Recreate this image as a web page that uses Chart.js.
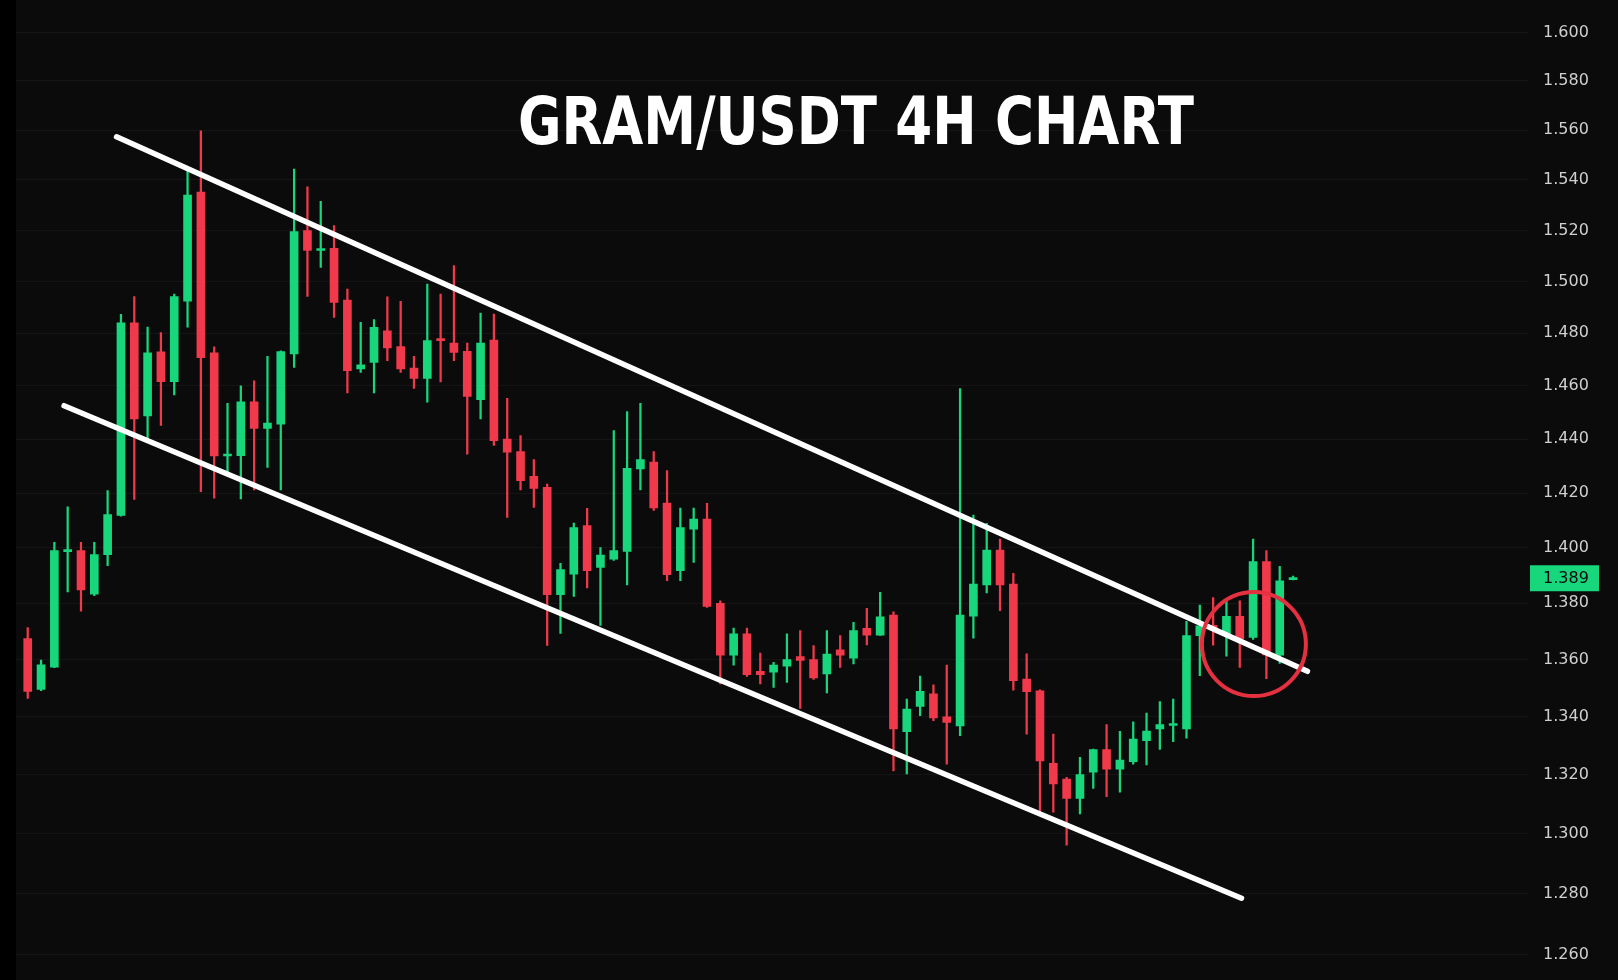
<!DOCTYPE html>
<html>
<head>
<meta charset="utf-8">
<title>GRAM/USDT 4H</title>
<script src="https://cdn.jsdelivr.net/npm/chart.js@4.4.1/dist/chart.umd.min.js"></script>
<style>
  html, body { margin: 0; padding: 0; background: #000; overflow: hidden; }
  #wrap { position: absolute; left: 16px; top: 0; width: 1602px; height: 980px; background: #0b0b0b; }
</style>
</head>
<body>
<div id="wrap"><canvas id="gramChart" width="1602" height="980"></canvas></div>
<script>
// candle values (oldest first)
const opens = [1.3675,1.3496,1.3574,1.3986,1.3990,1.3833,1.3975,1.4118,1.4840,1.4487,1.4729,1.4616,1.4924,1.5352,1.4725,1.4337,
  1.4338,1.4540,1.4440,1.4456,1.4721,1.5199,1.5121,1.5130,1.4928,1.4664,1.4689,1.4810,1.4749,1.4667,1.4628,1.4777,
  1.4763,1.4731,1.4548,1.4774,1.4400,1.4353,1.4262,1.4221,1.3831,1.3905,1.4081,1.3929,1.3959,1.3987,1.4289,1.4314,
  1.4163,1.3917,1.4068,1.4105,1.3800,1.3616,1.3691,1.3559,1.3556,1.3577,1.3611,1.3600,1.3550,1.3635,1.3605,1.3711,
  1.3687,1.3758,1.3349,1.3436,1.3480,1.3400,1.3369,1.3754,1.3866,1.3992,1.3869,1.3532,1.3491,1.3240,1.3186,1.3120,
  1.3209,1.3287,1.3220,1.3245,1.3318,1.3358,1.3370,1.3358,1.3685,1.3722,1.3685,1.3754,1.3679,1.3950,1.3616,1.3885];
const highs = [1.3714,1.3599,1.4020,1.4149,1.4020,1.4020,1.4209,1.4873,1.4942,1.4824,1.4803,1.4951,1.5436,1.5597,1.4748,1.4534,
  1.4600,1.4619,1.4712,1.4733,1.5443,1.5373,1.5315,1.5219,1.4971,1.4842,1.4853,1.4941,1.4923,1.4712,1.4990,1.4951,
  1.5062,1.4763,1.4878,1.4874,1.4553,1.4413,1.4324,1.4233,1.3944,1.4090,1.4144,1.4001,1.4432,1.4503,1.4534,1.4353,
  1.4283,1.4145,1.4145,1.4162,1.3809,1.3712,1.3712,1.3623,1.3591,1.3691,1.3703,1.3650,1.3703,1.3685,1.3732,1.3782,
  1.3839,1.3770,1.3462,1.3542,1.3512,1.3581,1.4590,1.4119,1.4089,1.4032,1.3908,1.3621,1.3494,1.3340,1.3192,1.3260,
  1.3289,1.3373,1.3350,1.3383,1.3413,1.3453,1.3462,1.3736,1.3794,1.3821,1.3809,1.3809,1.4032,1.3990,1.3933,1.3898];
const lows = [1.3464,1.3491,1.3572,1.3841,1.3772,1.3827,1.3935,1.4115,1.4177,1.4404,1.4451,1.4566,1.4824,1.4205,1.4181,1.4266,
  1.4178,1.4212,1.4295,1.4212,1.4670,1.4942,1.5055,1.4861,1.4573,1.4651,1.4573,1.4696,1.4651,1.4590,1.4538,1.4615,
  1.4696,1.4344,1.4475,1.4376,1.4111,1.4212,1.4147,1.3650,1.3693,1.3825,1.3855,1.3721,1.3954,1.3866,1.4212,1.4136,
  1.3881,1.3881,1.3947,1.3785,1.3515,1.3581,1.3541,1.3515,1.3503,1.3520,1.3429,1.3531,1.3483,1.3573,1.3585,1.3652,
  1.3686,1.3214,1.3203,1.3404,1.3387,1.3237,1.3335,1.3676,1.3837,1.3774,1.3493,1.3340,1.3073,1.3073,1.2962,1.3067,
  1.3154,1.3126,1.3141,1.3237,1.3234,1.3287,1.3314,1.3326,1.3544,1.3651,1.3612,1.3573,1.3672,1.3533,1.3587,1.3884];
const closes = [1.3489,1.3582,1.3990,1.3990,1.3848,1.3975,1.4121,1.4840,1.4475,1.4725,1.4616,1.4942,1.5340,1.4707,1.4337,1.4341,
  1.4540,1.4440,1.4460,1.4730,1.5195,1.5121,1.5125,1.4919,1.4658,1.4680,1.4823,1.4744,1.4664,1.4628,1.4772,1.4772,
  1.4727,1.4560,1.4763,1.4394,1.4351,1.4246,1.4217,1.3831,1.3921,1.4074,1.3917,1.3974,1.3990,1.4291,1.4324,1.4145,
  1.3903,1.4074,1.4105,1.3789,1.3616,1.3691,1.3547,1.3547,1.3581,1.3600,1.3597,1.3536,1.3620,1.3616,1.3703,1.3687,
  1.3752,1.3358,1.3427,1.3489,1.3396,1.3381,1.3758,1.3869,1.3992,1.3866,1.3526,1.3488,1.3248,1.3169,1.3120,1.3201,
  1.3287,1.3220,1.3251,1.3323,1.3351,1.3373,1.3373,1.3685,1.3720,1.3706,1.3754,1.3673,1.3950,1.3617,1.3881,1.3890];

// price axis ticks
const priceTicks = [1.26,1.28,1.30,1.32,1.34,1.36,1.38,1.40,1.42,1.44,1.46,1.48,1.50,1.52,1.54,1.56,1.58,1.60];

// hand drawn channel (candle index, price)
const upperChannelX = [6.67, 96.08];
const upperChannelY = [1.5573, 1.3559];
const lowerChannelX = [2.73, 91.13];
const lowerChannelY = [1.4525, 1.2785];

// red circle marking the retest
const retestX = [92.06];
const retestY = [1.3655];

const lastPrice = 1.389;

const GREEN = '#17d67c';
const RED = '#f03a4b';

const candleColors = opens.map((o, i) => closes[i] >= o ? GREEN : RED);

const wickData = lows.map((l, i) => ({ x: i, y: [l, highs[i]] }));
const bodyData = opens.map((o, i) => ({ x: i, y: [Math.min(o, closes[i]), Math.max(o, closes[i])] }));

// title + current price tag
const overlayPlugin = {
  id: 'overlay',
  afterDraw(chart) {
    const ctx = chart.ctx;
    const yScale = chart.scales.y;

    // title
    ctx.save();
    ctx.font = 'bold 66px "DejaVu Sans", sans-serif';
    ctx.fillStyle = '#ffffff';
    ctx.textBaseline = 'middle';
    ctx.textAlign = 'center';
    const text = 'GRAM/USDT 4H CHART';
    const w = ctx.measureText(text).width;
    const targetW = 676;
    ctx.translate(840, 127);
    ctx.scale(targetW / w, 1);
    ctx.fillText(text, 0, 0);
    ctx.restore();

    // price tag on the axis
    const py = yScale.getPixelForValue(lastPrice);
    ctx.save();
    ctx.fillStyle = GREEN;
    ctx.fillRect(chart.chartArea.right + 2, py - 13, 69, 26);
    ctx.fillStyle = '#0b0b0b';
    ctx.font = '16px "DejaVu Sans", sans-serif';
    ctx.textBaseline = 'middle';
    ctx.textAlign = 'left';
    ctx.fillText(lastPrice.toFixed(3), chart.chartArea.right + 15, py + 1);
    ctx.restore();
  }
};

new Chart(document.querySelector('#gramChart'), {
  type: 'bar',
  data: {
    datasets: [
      {
        label: 'wicks',
        data: wickData,
        backgroundColor: candleColors,
        barThickness: 1.6,
        grouped: false,
        order: 5
      },
      {
        label: 'bodies',
        data: bodyData,
        backgroundColor: candleColors,
        barThickness: 8,
        minBarLength: 2,
        grouped: false,
        order: 4
      },
      {
        type: 'line',
        label: 'upper',
        data: upperChannelX.map((x, i) => ({ x: x, y: upperChannelY[i] })),
        borderColor: '#ffffff',
        borderWidth: 5.5,
        borderCapStyle: 'round',
        pointRadius: 0,
        order: 2
      },
      {
        type: 'line',
        label: 'lower',
        data: lowerChannelX.map((x, i) => ({ x: x, y: lowerChannelY[i] })),
        borderColor: '#ffffff',
        borderWidth: 5.5,
        borderCapStyle: 'round',
        pointRadius: 0,
        order: 2
      },
      {
        type: 'line',
        label: 'retest',
        data: retestX.map((x, i) => ({ x: x, y: retestY[i] })),
        showLine: false,
        pointRadius: 52,
        pointBorderWidth: 4,
        pointBorderColor: '#e5303f',
        pointBackgroundColor: 'rgba(0,0,0,0)',
        order: 1
      }
    ]
  },
  options: {
    responsive: false,
    animation: false,
    devicePixelRatio: 1,
    layout: { padding: 0, autoPadding: false },
    plugins: {
      legend: { display: false },
      tooltip: { enabled: false }
    },
    scales: {
      x: {
        type: 'linear',
        display: false,
        min: -0.88,
        max: 112.64,
        offset: false
      },
      y: {
        type: 'logarithmic',
        position: 'right',
        bounds: 'data',
        // range chosen so the plot spans the whole canvas height once the label padding is taken
        min: 1.2548,
        max: 1.6095,
        afterBuildTicks(scale) {
          scale.ticks = priceTicks.map(v => ({ value: v }));
        },
        afterFit(scale) {
          scale.width = 90;
        },
        grid: { color: 'rgba(255,255,255,0.045)', drawTicks: true, tickLength: 15, tickColor: 'rgba(0,0,0,0)' },
        border: { display: false },
        ticks: {
          color: '#cfcfcf',
          padding: 0,
          font: { family: '"DejaVu Sans", sans-serif', size: 16 },
          callback: v => Number(v).toFixed(3)
        }
      }
    }
  },
  plugins: [overlayPlugin]
});
</script>
</body>
</html>
